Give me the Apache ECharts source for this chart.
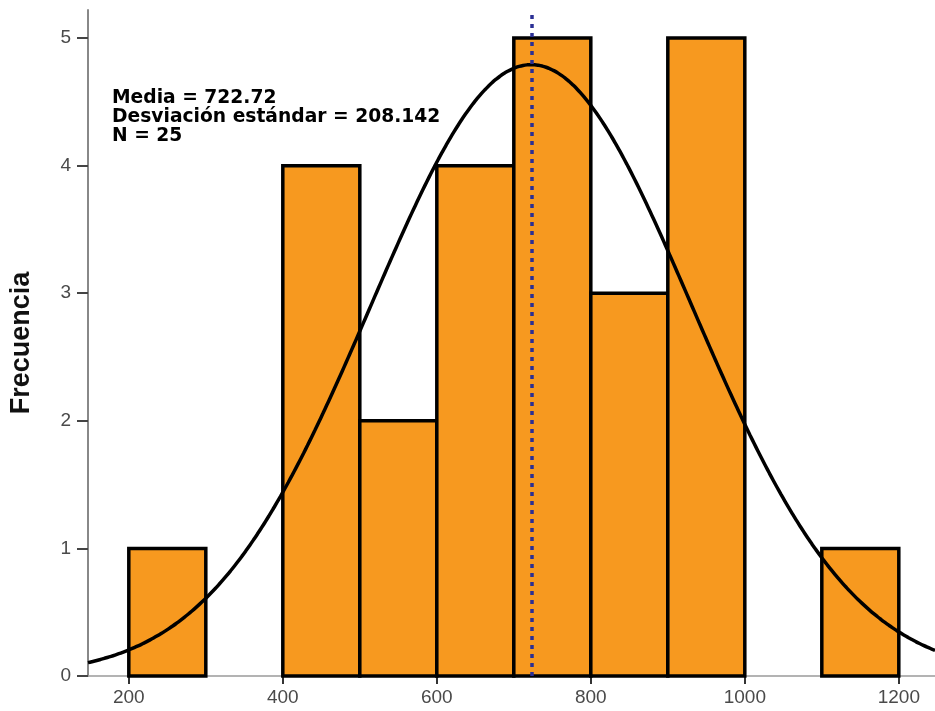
<!DOCTYPE html>
<html>
<head>
<meta charset="utf-8">
<script src="https://cdn.jsdelivr.net/npm/echarts@6/dist/echarts.min.js"></script>
<style>
  html, body { margin: 0; padding: 0; background: #fff; }
  #chart { width: 935px; height: 711px; }
</style>
</head>
<body>
<div id="chart"></div>
<script>
// Histogram bins (lower edges) and frequencies
const binStarts = [200, 300, 400, 500, 600, 700, 800, 900, 1000, 1100];
const binWidth = 100;
const frequencies = [1, 0, 4, 2, 4, 5, 3, 5, 0, 1];

// Summary statistics shown in the annotation
const mean = 722.72;
const stdDev = 208.142;
const sampleSize = 25;

// Axis ticks
const xTicks = [200, 400, 600, 800, 1000, 1200];
const yTicks = [0, 1, 2, 3, 4, 5];

const xMin = 147, xMax = 1247;

const bins = binStarts.map((s, i) => [s, s + binWidth, frequencies[i]]).filter(b => b[2] > 0);

// Fitted normal curve, scaled to counts per bin
const curve = [];
const scale = sampleSize * binWidth / (stdDev * Math.sqrt(2 * Math.PI));
for (let x = xMin; x <= xMax; x += 5) {
  const z = (x - mean) / stdDev;
  curve.push([x, scale * Math.exp(-0.5 * z * z)]);
}

const chart = echarts.init(document.getElementById('chart'));
chart.setOption({
  animation: false,
  backgroundColor: '#ffffff',
  grid: { left: 87, right: 0, top: 10, bottom: 35, containLabel: false },
  xAxis: {
    type: 'value',
    min: xMin, max: xMax,
    splitLine: { show: false },
    axisLine: { show: true, lineStyle: { color: '#9a9a9a', width: 1.5 } },
    axisTick: { show: true, customValues: xTicks, length: 8, lineStyle: { color: '#333', width: 2 } },
    axisLabel: {
      customValues: xTicks,
      formatter: v => String(v),
      color: '#4a4a4a', fontSize: 19, fontFamily: 'Arial, Liberation Sans', margin: 12
    }
  },
  yAxis: {
    type: 'value',
    min: 0, max: 5.22,
    name: 'Frecuencia',
    nameLocation: 'middle',
    nameGap: 53,
    nameRotate: 90,
    nameTextStyle: { fontSize: 27, fontWeight: 'bold', color: '#111', fontFamily: 'Liberation Sans Narrow, Arial Narrow, Arial, Liberation Sans' },
    splitLine: { show: false },
    axisLine: { show: true, lineStyle: { color: '#888', width: 2 } },
    axisTick: { show: true, customValues: yTicks, length: 11, lineStyle: { color: '#444', width: 2 } },
    axisLabel: {
      customValues: yTicks,
      color: '#4a4a4a', fontSize: 19, fontFamily: 'Arial, Liberation Sans', margin: 17
    }
  },
  series: [
    {
      type: 'custom',
      data: bins,
      renderItem: function (params, api) {
        const p0 = api.coord([api.value(0), api.value(2)]);
        const p1 = api.coord([api.value(1), 0]);
        return {
          type: 'rect',
          shape: { x: p0[0], y: p0[1], width: p1[0] - p0[0], height: p1[1] - p0[1] },
          style: { fill: '#F7991F', stroke: '#000', lineWidth: 3.5 }
        };
      },
      z: 2
    },
    {
      type: 'line',
      data: curve,
      showSymbol: false,
      smooth: true,
      lineStyle: { color: '#000', width: 3.5 },
      z: 4,
      markLine: {
        silent: true,
        symbol: 'none',
        label: { show: false },
        lineStyle: { color: '#2b2f95', width: 3.5, type: [4, 5] },
        data: [[{ coord: [mean, 0] }, { coord: [mean, 5.2] }]]
      }
    }
  ],
  graphic: [
    {
      type: 'text',
      left: 112, top: 89,
      style: {
        text: 'Media = ' + mean + '\nDesviación estándar = ' + stdDev + '\nN = ' + sampleSize,
        font: 'bold 18.7px "DejaVu Sans"',
        lineHeight: 19,
        fill: '#000'
      },
      z: 10
    }
  ]
});
</script>
</body>
</html>
